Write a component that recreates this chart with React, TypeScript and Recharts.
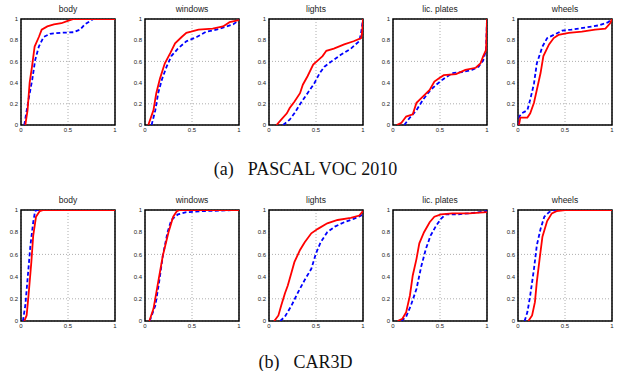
import { CartesianGrid, Line, LineChart, ReferenceArea, XAxis, YAxis } from "recharts";

type Pt = [number, number];

// PASCAL VOC 2010 row
const vocBodyRed: Pt[] = [[0.046, 0], [0.07, 0.14], [0.092, 0.4], [0.117, 0.55], [0.145, 0.74], [0.19, 0.83], [0.22, 0.9], [0.28, 0.93], [0.35, 0.95], [0.43, 0.96], [0.49, 0.98], [0.56, 1], [1, 1]];
const vocBodyBlue: Pt[] = [[0.035, 0], [0.08, 0.24], [0.12, 0.43], [0.15, 0.61], [0.19, 0.74], [0.24, 0.83], [0.31, 0.86], [0.42, 0.87], [0.56, 0.875], [0.63, 0.9], [0.68, 0.95], [0.77, 1], [0.8, 1]];
const vocWindowsRed: Pt[] = [[0.035, 0], [0.09, 0.14], [0.12, 0.3], [0.16, 0.44], [0.21, 0.58], [0.27, 0.68], [0.32, 0.77], [0.39, 0.83], [0.44, 0.87], [0.49, 0.88], [0.57, 0.9], [0.72, 0.91], [0.83, 0.93], [0.9, 0.97], [1, 0.99]];
const vocWindowsBlue: Pt[] = [[0.07, 0], [0.11, 0.14], [0.14, 0.3], [0.18, 0.43], [0.23, 0.55], [0.28, 0.65], [0.35, 0.72], [0.44, 0.79], [0.55, 0.83], [0.65, 0.88], [0.76, 0.9], [0.87, 0.93], [0.94, 0.95], [1, 0.99]];
const vocLightsRed: Pt[] = [[0.08, 0], [0.13, 0.05], [0.19, 0.11], [0.22, 0.16], [0.27, 0.22], [0.33, 0.3], [0.36, 0.38], [0.41, 0.46], [0.47, 0.57], [0.52, 0.61], [0.57, 0.65], [0.61, 0.7], [0.69, 0.72], [0.8, 0.76], [0.9, 0.79], [0.98, 0.82], [0.99, 0.87], [1, 1]];
const vocLightsBlue: Pt[] = [[0.15, 0], [0.22, 0.05], [0.27, 0.11], [0.34, 0.21], [0.41, 0.3], [0.48, 0.39], [0.54, 0.49], [0.59, 0.55], [0.68, 0.61], [0.76, 0.66], [0.87, 0.72], [0.96, 0.79], [0.98, 0.87], [1, 1]];
const vocPlatesRed: Pt[] = [[0.04, 0], [0.09, 0.02], [0.14, 0.08], [0.21, 0.1], [0.25, 0.21], [0.32, 0.27], [0.39, 0.33], [0.44, 0.41], [0.49, 0.44], [0.54, 0.47], [0.67, 0.48], [0.77, 0.52], [0.88, 0.54], [0.93, 0.58], [0.96, 0.65], [0.99, 0.71], [1, 1]];
const vocPlatesBlue: Pt[] = [[0.12, 0], [0.18, 0.07], [0.25, 0.14], [0.32, 0.24], [0.39, 0.32], [0.46, 0.38], [0.53, 0.43], [0.63, 0.49], [0.74, 0.5], [0.84, 0.52], [0.91, 0.55], [0.96, 0.61], [0.99, 0.71], [1, 1]];
const vocWheelsRed: Pt[] = [[0.01, 0], [0.025, 0.07], [0.1, 0.07], [0.13, 0.11], [0.17, 0.21], [0.2, 0.33], [0.24, 0.49], [0.27, 0.65], [0.33, 0.76], [0.38, 0.82], [0.43, 0.85], [0.54, 0.87], [0.68, 0.88], [0.82, 0.9], [0.93, 0.91], [0.98, 0.96], [1, 1]];
const vocWheelsBlue: Pt[] = [[0.01, 0], [0.015, 0.08], [0.04, 0.11], [0.1, 0.14], [0.13, 0.24], [0.17, 0.39], [0.2, 0.58], [0.26, 0.74], [0.31, 0.82], [0.38, 0.85], [0.47, 0.89], [0.57, 0.9], [0.72, 0.92], [0.86, 0.94], [0.96, 0.97], [1, 1]];

// CAR3D row
const carBodyRed: Pt[] = [[0.035, 0], [0.06, 0.05], [0.08, 0.23], [0.11, 0.53], [0.13, 0.77], [0.16, 0.94], [0.2, 0.99], [0.24, 1], [1, 1]];
const carBodyBlue: Pt[] = [[0.02, 0], [0.046, 0.14], [0.07, 0.38], [0.1, 0.68], [0.13, 0.89], [0.15, 0.99], [0.17, 1], [0.68, 1]];
const carWindowsRed: Pt[] = [[0.046, 0], [0.09, 0.11], [0.14, 0.35], [0.19, 0.59], [0.25, 0.8], [0.3, 0.94], [0.34, 0.99], [0.37, 1], [1, 1]];
const carWindowsBlue: Pt[] = [[0.05, 0], [0.11, 0.14], [0.15, 0.35], [0.19, 0.59], [0.24, 0.8], [0.28, 0.91], [0.35, 0.96], [0.44, 0.98], [0.62, 0.99], [1, 1]];
const carLightsRed: Pt[] = [[0.056, 0], [0.1, 0.05], [0.13, 0.14], [0.17, 0.25], [0.2, 0.32], [0.24, 0.44], [0.27, 0.53], [0.33, 0.64], [0.38, 0.71], [0.45, 0.79], [0.52, 0.83], [0.62, 0.88], [0.73, 0.91], [0.87, 0.93], [0.96, 0.95], [1, 0.99]];
const carLightsBlue: Pt[] = [[0.12, 0], [0.17, 0.04], [0.24, 0.14], [0.31, 0.26], [0.38, 0.37], [0.45, 0.47], [0.5, 0.61], [0.55, 0.71], [0.62, 0.8], [0.7, 0.85], [0.8, 0.89], [0.9, 0.92], [0.98, 0.95], [1, 0.99]];
const carPlatesRed: Pt[] = [[0.05, 0], [0.1, 0.02], [0.14, 0.08], [0.18, 0.23], [0.21, 0.41], [0.25, 0.56], [0.28, 0.7], [0.33, 0.8], [0.39, 0.89], [0.44, 0.94], [0.51, 0.96], [0.63, 0.97], [0.81, 0.97], [1, 0.98]];
const carPlatesBlue: Pt[] = [[0.09, 0], [0.14, 0.04], [0.19, 0.14], [0.25, 0.29], [0.3, 0.49], [0.35, 0.65], [0.4, 0.77], [0.46, 0.86], [0.51, 0.92], [0.56, 0.96], [0.67, 0.96], [0.81, 0.97], [1, 0.99]];
const carWheelsRed: Pt[] = [[0.11, 0], [0.15, 0.05], [0.18, 0.17], [0.2, 0.35], [0.23, 0.56], [0.26, 0.76], [0.31, 0.9], [0.36, 0.97], [0.41, 0.99], [0.5, 1], [1, 1]];
const carWheelsBlue: Pt[] = [[0.07, 0], [0.1, 0.08], [0.13, 0.23], [0.17, 0.47], [0.2, 0.68], [0.24, 0.83], [0.28, 0.94], [0.33, 0.98], [0.38, 1], [1, 1]];

const partNames = ["body", "windows", "lights", "lic. plates", "wheels"];
const xTicks = [0, 0.5, 1];
const yTicks = [0, 0.2, 0.4, 0.6, 0.8, 1];
const captionTags = ["(a)", "(b)"];
const captionNames = ["PASCAL VOC 2010", "CAR3D"];

const rows = [
  { red: [vocBodyRed, vocWindowsRed, vocLightsRed, vocPlatesRed, vocWheelsRed], blue: [vocBodyBlue, vocWindowsBlue, vocLightsBlue, vocPlatesBlue, vocWheelsBlue] },
  { red: [carBodyRed, carWindowsRed, carLightsRed, carPlatesRed, carWheelsRed], blue: [carBodyBlue, carWindowsBlue, carLightsBlue, carPlatesBlue, carWheelsBlue] },
];

const plotLefts = [21, 145, 269, 393, 518];
const rowTops = [19, 210];
const rowHeights = [106, 111];
const captionYs = [169, 362];
const toObj = (p: Pt[]) => p.map(([x, y]) => ({ x, y }));
const fmt = (v: number) => String(v);

const Panel = ({ title, red, blue, left, top, plotH }: { title: string; red: Pt[]; blue: Pt[]; left: number; top: number; plotH: number }) => {
  const W = 21 + 94 + 6;
  const H = 19 + plotH + 12;
  return (
    <div style={ { position: "absolute", left: left - 21, top: top - 19, width: W, height: H } }>
      <div style={ { position: "absolute", left: 21, width: 94, top: 4, textAlign: "center", fontFamily: "'Liberation Sans', Arial", fontSize: 8.5, color: "#222", lineHeight: "10px" } }>
        { title }
      </div>
      <LineChart width={ W } height={ H } margin={ { top: 19, right: 6, bottom: 0, left: 0 } }>
        <CartesianGrid strokeDasharray="1 2" stroke="#999" strokeWidth={ 0.8 }/>
        <XAxis type="number" dataKey="x" domain={ [0, 1] } ticks={ xTicks } tickFormatter={ fmt } height={ 12 }
               axisLine={ false } tickLine={ false } tickSize={ 2 } tickMargin={ 1 } allowDataOverflow
               tick={ { fontSize: 6, fill: "#222", fontFamily: "'Liberation Sans', Arial" } }/>
        <YAxis type="number" domain={ [0, 1] } ticks={ yTicks } tickFormatter={ fmt } width={ 21 }
               axisLine={ false } tickLine={ false } tickSize={ 2 } tickMargin={ 1 } allowDataOverflow
               tick={ { fontSize: 6, fill: "#222", fontFamily: "'Liberation Sans', Arial" } }/>
        <ReferenceArea x1={ 0 } x2={ 1 } y1={ 0 } y2={ 1 } fill="none" stroke="#000" strokeWidth={ 1.5 } fillOpacity={ 0 }/>
        <Line data={ toObj(blue) } dataKey="y" type="linear" stroke="#0000ff" strokeWidth={ 1.8 } strokeDasharray="4 2.5"
              dot={ false } isAnimationActive={ false }/>
        <Line data={ toObj(red) } dataKey="y" type="linear" stroke="#ff0000" strokeWidth={ 1.8 }
              dot={ false } isAnimationActive={ false }/>
      </LineChart>
    </div>
  );
};

export default function App() {
  return (
    <div style={ { position: "absolute", left: 0, top: 0, width: 623, height: 371, background: "#fff" } }>
      { rows.map((row, r) => (
        <div key={ r }>
          { partNames.map((name, i) => (
            <Panel key={ name } title={ name } red={ row.red[i] } blue={ row.blue[i] } left={ plotLefts[i] }
                   top={ rowTops[r] } plotH={ rowHeights[r] }/>
          )) }
          <div style={ { position: "absolute", left: 0, width: 611, top: captionYs[r] - 11, textAlign: "center", fontFamily: "'Liberation Serif', 'Times New Roman', serif", fontSize: 18, lineHeight: "22px", whiteSpace: "pre", color: "#111" } }>
            { captionTags[r] }<span style={ { display: "inline-block", width: 14 } }/>{ captionNames[r] }
          </div>
        </div>
      )) }
    </div>
  );
}
